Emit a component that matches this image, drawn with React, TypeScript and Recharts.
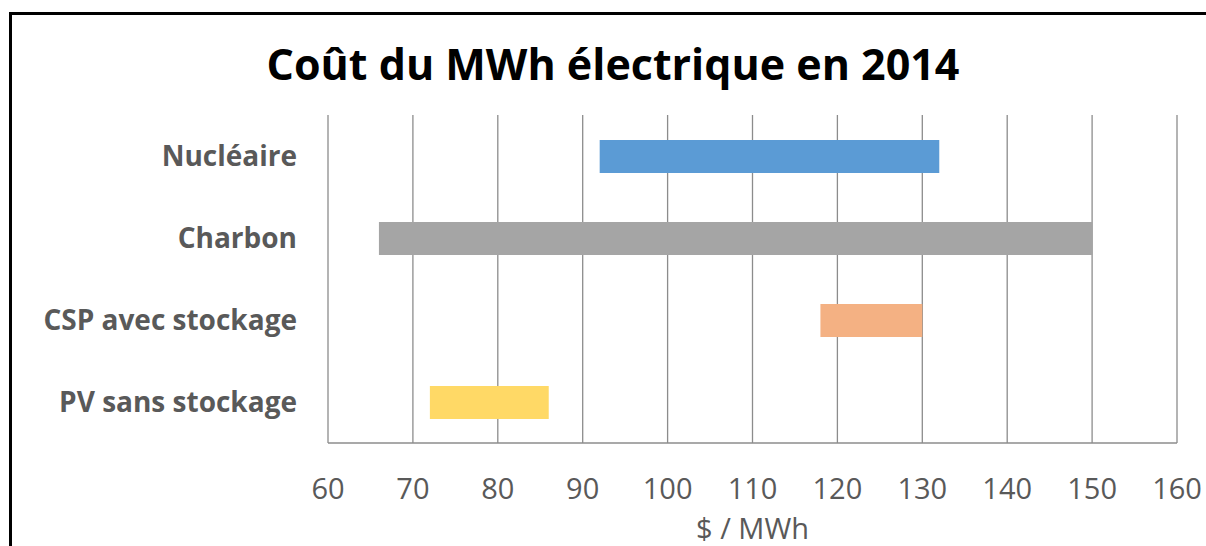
import { BarChart, Bar, Cell, XAxis, YAxis, CartesianGrid } from "recharts"

const categories = ["Nucléaire", "Charbon", "CSP avec stockage", "PV sans stockage"]
const lowCosts = [92, 66, 118, 72]
const highCosts = [132, 150, 130, 86]
const barColors = ["#5B9BD5", "#A5A5A5", "#F4B183", "#FFD966"]
const xTicks = [60, 70, 80, 90, 100, 110, 120, 130, 140, 150, 160]

const FONT = "'Open Sans', 'Noto Sans', sans-serif"
const GRID = "#8c8c8c"
const TEXT = "#595959"

const data = categories.map((name, i) => ({
  name,
  range: [lowCosts[i], highCosts[i]],
}))

export default function App() {
  return (
    <div
      style={{
        position: "absolute",
        left: 0,
        top: 0,
        width: 1206,
        height: 546,
        overflow: "hidden",
        background: "#fff",
        fontFamily: FONT,
      }}
    >
      {/* frame: only top and left edges are visible in the crop */}
      <div style={{ position: "absolute", left: 9, top: 12, width: 1197, height: 3, background: "#000" }} />
      <div style={{ position: "absolute", left: 9, top: 12, width: 3, height: 534, background: "#000" }} />
      <div
        style={{
          position: "absolute",
          left: 0,
          top: 42,
          width: 1226,
          textAlign: "center",
          fontSize: 43,
          lineHeight: "43px",
          fontWeight: 700,
          color: "#000",
        }}
      >
        Coût du MWh électrique en 2014
      </div>
      <div style={{ position: "absolute", left: 0, top: 0 }}>
        <BarChart
          width={1206}
          height={546}
          data={data}
          layout="vertical"
          margin={{ top: 115, right: 29, bottom: 0, left: 0 }}
          barSize={33}
        >
          <CartesianGrid horizontal={false} stroke={GRID} strokeWidth={1.3} />
          <XAxis
            type="number"
            domain={[60, 160]}
            ticks={xTicks}
            interval={0}
            height={103}
            tickLine={false}
            tickSize={0}
            tickMargin={35}
            axisLine={{ stroke: GRID, strokeWidth: 1.3 }}
            tick={{ fill: TEXT, fontSize: 29, fontFamily: FONT }}
            label={{
              value: "$ / MWh",
              position: "insideBottom",
              offset: 7,
              fill: TEXT,
              fontSize: 29,
              fontFamily: FONT,
            }}
          />
          <YAxis
            type="category"
            dataKey="name"
            width={328}
            tickLine={false}
            axisLine={false}
            tickSize={0}
            tickMargin={31}
            tick={{ fill: TEXT, fontSize: 28, fontWeight: 700, fontFamily: FONT }}
          />
          <Bar dataKey="range" isAnimationActive={false}>
            {data.map((_, i) => (
              <Cell key={i} fill={barColors[i]} />
            ))}
          </Bar>
        </BarChart>
      </div>
    </div>
  )
}
